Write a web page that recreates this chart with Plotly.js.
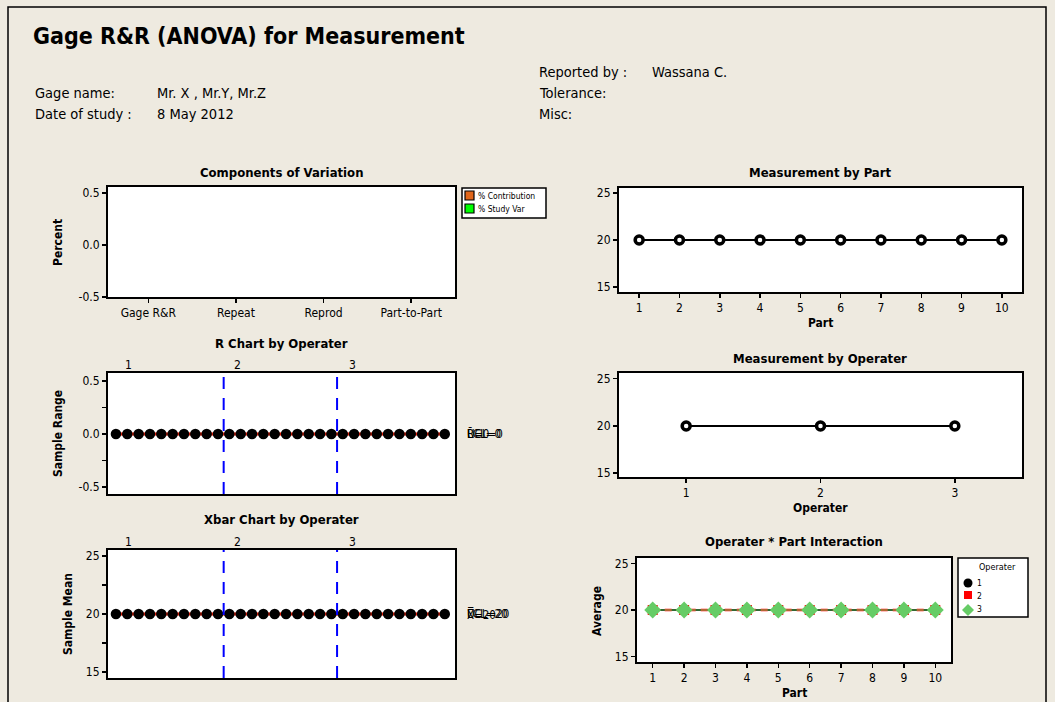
<!DOCTYPE html>
<html>
<head>
<meta charset="utf-8">
<script src="https://cdn.plot.ly/plotly-3.0.1.min.js"></script>
<style>
html,body{margin:0;padding:0;background:#EEEAE0;}
#chart{width:1055px;height:702px;}
</style>
</head>
<body>
<div id="chart"></div>
<script>
// ---------------- data ----------------
const components = ['Gage R&R', 'Repeat', 'Reprod', 'Part-to-Part'];
const pctContribution = [0, 0, 0, 0];
const pctStudyVar = [0, 0, 0, 0];

const sampleIndex = [1,2,3,4,5,6,7,8,9,10,11,12,13,14,15,16,17,18,19,20,21,22,23,24,25,26,27,28,29,30];
const sampleRanges = [0,0,0,0,0,0,0,0,0,0,0,0,0,0,0,0,0,0,0,0,0,0,0,0,0,0,0,0,0,0];
const sampleMeans = [20,20,20,20,20,20,20,20,20,20,20,20,20,20,20,20,20,20,20,20,20,20,20,20,20,20,20,20,20,20];
const operatorBoundaries = [10.5, 20.5];
const rBar = 0, rUCL = 0, rLCL = 0;
const xBarBar = 20, xUCL = 20, xLCL = 20;

const parts = [1,2,3,4,5,6,7,8,9,10];
const partMeans = [20,20,20,20,20,20,20,20,20,20];
const operators = [1, 2, 3];
const operatorMeans = [20, 20, 20];
const op1Average = [20,20,20,20,20,20,20,20,20,20];
const op2Average = [20,20,20,20,20,20,20,20,20,20];
const op3Average = [20,20,20,20,20,20,20,20,20,20];

const rTickVals = [-0.5, 0, 0.5];
const rTickText = ['-0.5', '0.0', '0.5'];
const measTickVals = [15, 20, 25];

// ---------------- helpers ----------------
const W = 1055, H = 702;
const FONT = "'DejaVu Sans Condensed', 'DejaVu Sans', sans-serif";
const px = x => x / W;
const py = y => 1 - y / H;
const dx = (a, b) => [px(a), px(b)];
const dy = (top, bottom) => [py(bottom), py(top)];

function ann(text, x, y, o) {
  return Object.assign({
    text: text, x: px(x), y: py(y), xref: 'paper', yref: 'paper',
    xanchor: 'left', yanchor: 'middle', showarrow: false,
    font: {family: FONT, size: 14.5, color: '#000'}
  }, o || {});
}
function title(text, xc, y) {
  return ann('<b>' + text + '</b>', xc, y, {xanchor: 'center', font: {family: FONT, size: 13, color: '#000'}});
}
function axTitle(text, x, y, rot) {
  return ann('<b>' + text + '</b>', x, y, {xanchor: 'center', textangle: rot ? -90 : 0, font: {family: FONT, size: 12, color: '#000'}});
}

function baseAxis(extra) {
  return Object.assign({
    showline: true, mirror: true, linecolor: '#000', linewidth: 2,
    ticks: 'outside', ticklen: 4, tickwidth: 1.5, tickcolor: '#000',
    showgrid: false, zeroline: false, fixedrange: true,
    tickfont: {family: FONT, size: 12, color: '#000'}
  }, extra);
}

// ---------------- traces ----------------
const traces = [];
// Components of Variation
traces.push({type: 'bar', x: components, y: pctContribution, xaxis: 'x', yaxis: 'y',
  marker: {color: '#E0661A', line: {width: 0}}, showlegend: false, hoverinfo: 'none'});
traces.push({type: 'bar', x: components, y: pctStudyVar, xaxis: 'x', yaxis: 'y',
  marker: {color: '#00FF00', line: {width: 0}}, showlegend: false, hoverinfo: 'none'});

// R chart
const first = sampleIndex[0], last = sampleIndex[sampleIndex.length - 1];
[rUCL, rBar, rLCL].forEach(v => traces.push({type: 'scatter', mode: 'lines', x: [first, last], y: [v, v],
  xaxis: 'x2', yaxis: 'y2', line: {color: '#E8200A', width: 2.5}, showlegend: false, hoverinfo: 'none'}));
traces.push({type: 'scatter', mode: 'markers', x: sampleIndex, y: sampleRanges, xaxis: 'x2', yaxis: 'y2',
  marker: {color: '#000', size: 10.5, symbol: 'circle'}, showlegend: false, hoverinfo: 'none'});

// Xbar chart
[xUCL, xBarBar, xLCL].forEach(v => traces.push({type: 'scatter', mode: 'lines', x: [first, last], y: [v, v],
  xaxis: 'x3', yaxis: 'y3', line: {color: '#E8200A', width: 2.5}, showlegend: false, hoverinfo: 'none'}));
traces.push({type: 'scatter', mode: 'markers', x: sampleIndex, y: sampleMeans, xaxis: 'x3', yaxis: 'y3',
  marker: {color: '#000', size: 10.5, symbol: 'circle'}, showlegend: false, hoverinfo: 'none'});

// Measurement by Part
traces.push({type: 'scatter', mode: 'lines+markers', x: parts, y: partMeans, xaxis: 'x4', yaxis: 'y4',
  line: {color: '#000', width: 2},
  marker: {color: '#fff', size: 8, symbol: 'circle', line: {color: '#000', width: 3.5}},
  showlegend: false, hoverinfo: 'none'});

// Measurement by Operater
traces.push({type: 'scatter', mode: 'lines+markers', x: operators, y: operatorMeans, xaxis: 'x5', yaxis: 'y5',
  line: {color: '#000', width: 2},
  marker: {color: '#fff', size: 8, symbol: 'circle', line: {color: '#000', width: 3.5}},
  showlegend: false, hoverinfo: 'none'});

// Interaction
traces.push({type: 'scatter', mode: 'lines+markers', x: parts, y: op1Average, xaxis: 'x6', yaxis: 'y6',
  line: {color: '#000', width: 2}, marker: {color: '#000', size: 10, symbol: 'circle'},
  showlegend: false, hoverinfo: 'none'});
traces.push({type: 'scatter', mode: 'lines+markers', x: parts, y: op2Average, xaxis: 'x6', yaxis: 'y6',
  line: {color: '#FF0000', width: 2.5, dash: '7px,5px'}, marker: {color: '#FF0000', size: 10, symbol: 'square'},
  showlegend: false, hoverinfo: 'none'});
traces.push({type: 'scatter', mode: 'lines+markers', x: parts, y: op3Average, xaxis: 'x6', yaxis: 'y6',
  line: {color: '#66CC66', width: 1}, marker: {color: '#66CC66', size: 13, symbol: 'diamond'},
  showlegend: false, hoverinfo: 'none'});

// ---------------- shapes ----------------
const shapes = [];
// outer frame
shapes.push({type: 'rect', xref: 'paper', yref: 'paper', x0: px(8), x1: px(1046), y0: -0.05, y1: py(7),
  line: {color: '#000', width: 1.5}, fillcolor: 'rgba(0,0,0,0)', layer: 'below'});
// operator boundary lines
operatorBoundaries.forEach(b => {
  ['2', '3'].forEach(n => shapes.push({type: 'line', xref: 'x' + n, yref: 'y' + n + ' domain',
    x0: b, x1: b, y0: 0, y1: 1, line: {color: '#0000FF', width: 2, dash: '12px,9px'}}));
});
// Components legend
shapes.push({type: 'rect', xref: 'paper', yref: 'paper', x0: px(462), x1: px(546), y0: py(218), y1: py(188),
  fillcolor: '#fff', line: {color: '#000', width: 1.5}});
shapes.push({type: 'rect', xref: 'paper', yref: 'paper', x0: px(465), x1: px(474), y0: py(200), y1: py(191),
  fillcolor: '#E0661A', line: {color: '#000', width: 1.2}});
shapes.push({type: 'rect', xref: 'paper', yref: 'paper', x0: px(465), x1: px(474), y0: py(213), y1: py(204),
  fillcolor: '#00FF00', line: {color: '#000', width: 1.2}});
// Interaction legend
shapes.push({type: 'rect', xref: 'paper', yref: 'paper', x0: px(958), x1: px(1028), y0: py(617), y1: py(558),
  fillcolor: '#fff', line: {color: '#000', width: 1.5}});
shapes.push({type: 'circle', xref: 'paper', yref: 'paper', x0: px(963.5), x1: px(972.5), y0: py(587.5), y1: py(578.5),
  fillcolor: '#000', line: {color: '#000', width: 0}});
shapes.push({type: 'rect', xref: 'paper', yref: 'paper', x0: px(964), x1: px(972), y0: py(599), y1: py(591),
  fillcolor: '#FF0000', line: {width: 0}});
shapes.push({type: 'path', xref: 'paper', yref: 'paper',
  path: 'M' + px(968) + ',' + py(604) + ' L' + px(974) + ',' + py(610) + ' L' + px(968) + ',' + py(616) + ' L' + px(962) + ',' + py(610) + ' Z',
  fillcolor: '#66CC66', line: {width: 0}});

// ---------------- annotations ----------------
const annotations = [
  ann('<b>Gage R&R (ANOVA) for Measurement</b>', 31, 36, {font: {family: FONT, size: 23, color: '#000'}}),
  ann('Reported by :', 537, 72), ann('Wassana C.', 650, 72),
  ann('Gage name:', 33, 93), ann('Mr. X , Mr.Y, Mr.Z', 155, 93),
  ann('Tolerance:', 537, 93),
  ann('Date of study :', 33, 114), ann('8 May 2012', 155, 114),
  ann('Misc:', 537, 114),

  title('Components of Variation', 281, 173),
  title('R Chart by Operater', 281, 343),
  title('Xbar Chart by Operater', 281, 519),
  title('Measurement by Part', 820, 173),
  title('Measurement by Operater', 820, 358),
  title('Operater * Part Interaction', 794, 541),

  axTitle('Percent', 58, 243, true),
  axTitle('Sample Range', 58, 434, true),
  axTitle('Sample Mean', 68, 614, true),
  axTitle('Average', 597, 611, true),
  axTitle('Part', 820, 323),
  axTitle('Operater', 820, 508),
  axTitle('Part', 794, 693),

  ann('% Contribution', 476, 196, {font: {family: FONT, size: 8.5, color: '#000'}}),
  ann('% Study Var', 476, 209, {font: {family: FONT, size: 8.5, color: '#000'}}),
  ann('Operater', 997, 567, {xanchor: 'center', font: {family: FONT, size: 9, color: '#000'}}),
  ann('1', 975, 583, {font: {family: FONT, size: 8.5, color: '#000'}}),
  ann('2', 975, 596, {font: {family: FONT, size: 8.5, color: '#000'}}),
  ann('3', 975, 609, {font: {family: FONT, size: 8.5, color: '#000'}})
];
// operator labels above control charts
[['1', 128], ['2', 237], ['3', 352]].forEach(([t, x]) => {
  annotations.push(ann(t, x, 365, {xanchor: 'center', font: {family: FONT, size: 12, color: '#000'}}));
  annotations.push(ann(t, x, 542, {xanchor: 'center', font: {family: FONT, size: 12, color: '#000'}}));
});
// control limit labels (overlapping, as in the reference)
['UCL=' + rUCL, 'R\u0304=' + rBar, 'LCL=' + rLCL].forEach(t => annotations.push({
  text: t, x: px(465), xref: 'paper', y: rBar, yref: 'y2', xanchor: 'left', yanchor: 'middle',
  showarrow: false, font: {family: FONT, size: 11.5, color: '#000'}}));
['UCL=' + xUCL, 'X\u033F=' + xBarBar, 'LCL=' + xLCL].forEach(t => annotations.push({
  text: t, x: px(465), xref: 'paper', y: xBarBar, yref: 'y3', xanchor: 'left', yanchor: 'middle',
  showarrow: false, font: {family: FONT, size: 11.5, color: '#000'}}));

// ---------------- layout ----------------
const layout = {
  width: W, height: H,
  margin: {l: 0, r: 0, t: 0, b: 0},
  paper_bgcolor: '#EEEAE0', plot_bgcolor: '#fff',
  font: {family: FONT, color: '#000'},
  showlegend: false,
  barmode: 'group',
  xaxis: baseAxis({domain: dx(108, 455), anchor: 'y', type: 'category', range: [-0.46, 3.5]}),
  yaxis: baseAxis({domain: dy(187, 297), anchor: 'x', range: [-0.5, 0.558], tickvals: rTickVals, ticktext: rTickText}),
  xaxis2: baseAxis({domain: dx(108, 455), anchor: 'y2', range: [0.3, 30.9], showticklabels: false, ticks: ''}),
  yaxis2: baseAxis({domain: dy(373, 494), anchor: 'x2', range: [-0.566, 0.575], tickvals: rTickVals, ticktext: rTickText,
    minor: {tickvals: [-0.25, 0.25], ticks: 'outside', ticklen: 4, tickcolor: '#000', tickwidth: 1.5}}),
  xaxis3: baseAxis({domain: dx(108, 455), anchor: 'y3', range: [0.3, 30.9], showticklabels: false, ticks: ''}),
  yaxis3: baseAxis({domain: dy(550, 678), anchor: 'x3', range: [14.48, 25.52], tickvals: measTickVals,
    minor: {tickvals: [17.5, 22.5], ticks: 'outside', ticklen: 4, tickcolor: '#000', tickwidth: 1.5}}),
  xaxis4: baseAxis({domain: dx(619, 1022), anchor: 'y4', range: [0.5, 10.5], tickvals: parts}),
  yaxis4: baseAxis({domain: dy(188, 292), anchor: 'x4', range: [14.47, 25.53], tickvals: measTickVals}),
  xaxis5: baseAxis({domain: dx(619, 1022), anchor: 'y5', range: [0.5, 3.5], tickvals: operators}),
  yaxis5: baseAxis({domain: dy(373, 477), anchor: 'x5', range: [14.6, 25.6], tickvals: measTickVals}),
  xaxis6: baseAxis({domain: dx(637, 951), anchor: 'y6', range: [0.5, 10.5], tickvals: parts}),
  yaxis6: baseAxis({domain: dy(558, 662), anchor: 'x6', range: [14.4, 25.6], tickvals: measTickVals}),
  shapes: shapes,
  annotations: annotations
};

Plotly.newPlot('chart', traces, layout, {displayModeBar: false, staticPlot: true});
</script>
</body>
</html>
